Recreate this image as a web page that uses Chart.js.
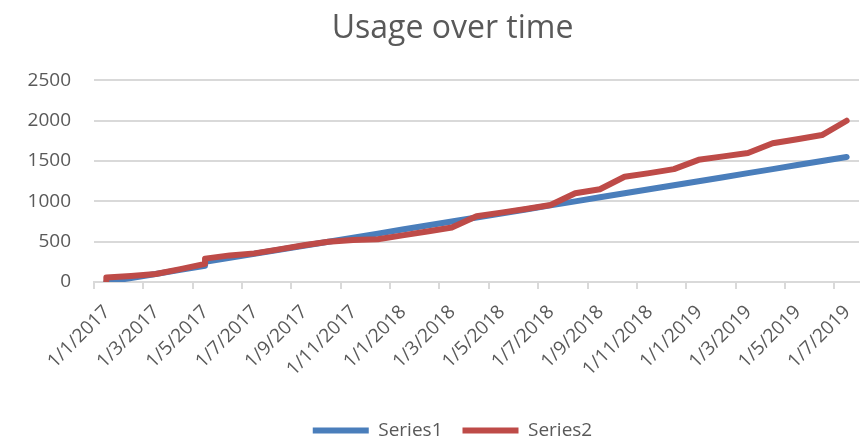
<!DOCTYPE html>
<html>
<head>
<meta charset="utf-8">
<script src="https://cdn.jsdelivr.net/npm/chart.js@4.4.1/dist/chart.umd.min.js"></script>
<style>
  html, body { margin: 0; padding: 0; background: #ffffff; }
  #wrap { width: 863px; height: 440px; }
</style>
</head>
<body>
<div id="wrap"><canvas id="c" width="863" height="440"></canvas></div>
<script>
// ---- data (months as yyyy-mm; Excel date axis with monthly base unit) ----
const tickLabels = ["1/1/2017","1/3/2017","1/5/2017","1/7/2017","1/9/2017","1/11/2017",
  "1/1/2018","1/3/2018","1/5/2018","1/7/2018","1/9/2018","1/11/2018",
  "1/1/2019","1/3/2019","1/5/2019","1/7/2019"];

const s1Months = ["2017-01","2017-02","2017-03","2017-04","2017-05","2017-05","2017-06","2017-07",
  "2017-08","2017-09","2017-10","2017-11","2017-12","2018-01","2018-02","2018-03","2018-04",
  "2018-05","2018-06","2018-07","2018-08","2018-09","2018-10","2018-11","2018-12","2019-01",
  "2019-02","2019-03","2019-04","2019-05","2019-06","2019-07"];
const s1Values = [0,50,100,150,200,250,300,350,400,450,500,550,600,650,700,750,800,
  850,900,950,1000,1050,1100,1150,1200,1250,1300,1350,1400,1450,1500,1550];

const s2Months = ["2017-01","2017-01","2017-02","2017-03","2017-04","2017-05","2017-05","2017-06",
  "2017-07","2017-08","2017-09","2017-10","2017-11","2017-12","2018-01","2018-02","2018-03",
  "2018-04","2018-05","2018-06","2018-07","2018-08","2018-09","2018-10","2018-11","2018-12",
  "2019-01","2019-02","2019-03","2019-04","2019-05","2019-06","2019-07"];
const s2Values = [15,55,75,100,160,225,290,330,355,405,455,500,520,530,578,626,675,
  815,860,905,955,1100,1150,1305,1350,1400,1515,1558,1600,1720,1770,1822,2000];

const seriesNames = ["Series1","Series2"];
const seriesColors = ["#4a7ebb","#be4b48"];
const yMin = 0, yMax = 2500, yStep = 500;

// month string -> position (month slot centre, Jan 2017 slot = [0,1])
function monthPos(m) {
  const [y, mo] = m.split("-").map(Number);
  return (y - 2017) * 12 + (mo - 1) + 0.5;
}
function toPoints(months, values) {
  return months.map((m, i) => ({ x: monthPos(m), y: values[i] }));
}
const tickPositions = tickLabels.map(l => {
  const [d, mo, y] = l.split("/").map(Number);
  return (y - 2017) * 12 + (mo - 1);
});
const axisMax = monthPos(s1Months[s1Months.length - 1]) + 0.5;

const FONT = "'Open Sans', 'Liberation Sans', sans-serif";
const TXT = "#595959";
const GRID = "#d9d9d9";
const LEG_PAD = 20;

// Excel centres title and legend slightly right of the canvas centre
const shiftBlocks = {
  id: "shiftBlocks",
  afterLayout(chart) {
    [chart.titleBlock, chart.legend].forEach(b => { if (b) { b.left += 46; } });
  }
};

new Chart(document.getElementById("c"), {
  type: "line",
  plugins: [shiftBlocks],
  data: {
    datasets: [
      { label: seriesNames[0], data: toPoints(s1Months, s1Values), order: 2,
        borderColor: seriesColors[0], backgroundColor: seriesColors[0] },
      { label: seriesNames[1], data: toPoints(s2Months, s2Values), order: 1,
        borderColor: seriesColors[1], backgroundColor: seriesColors[1] }
    ].map(d => Object.assign(d, {
      borderWidth: 6, pointRadius: 0, pointHoverRadius: 0, tension: 0,
      borderCapStyle: "round", borderJoinStyle: "round", fill: false
    }))
  },
  options: {
    responsive: false,
    animation: false,
    devicePixelRatio: 1,
    layout: { padding: { left: 0, right: 4, top: 0, bottom: -10 } },
    plugins: {
      title: {
        display: true, text: "Usage over time", color: TXT,
        font: { family: FONT, size: 32, weight: "normal" },
        padding: { top: 10, bottom: 32 }
      },
      legend: {
        position: "bottom",
        labels: {
          color: TXT, font: { family: FONT, size: 19 },
          usePointStyle: true, pointStyle: "line", pointStyleWidth: 56,
          padding: LEG_PAD,
          sort: (a, b) => a.datasetIndex - b.datasetIndex
        }
      },
      tooltip: { enabled: false }
    },
    scales: {
      x: {
        type: "linear", min: 0, max: axisMax,
        afterBuildTicks: (s) => { s.ticks = tickPositions.map(v => ({ value: v })); },
        afterFit: (s) => { s.height = 139 - LEG_PAD; },
        ticks: {
          color: TXT, font: { family: FONT, size: 19 },
          minRotation: 45, maxRotation: 45, autoSkip: false, padding: 12, labelOffset: 13,
          callback: (v) => { const i = tickPositions.indexOf(v); return i >= 0 ? tickLabels[i] : ""; }
        },
        grid: { drawOnChartArea: false, drawTicks: true, tickLength: 7, color: GRID, lineWidth: 2 },
        border: { display: true, color: GRID, width: 2 }
      },
      y: {
        min: yMin, max: yMax,
        afterFit: (s) => { s.width = 94; },
        ticks: { stepSize: yStep, color: TXT, font: { family: FONT, size: 19 }, padding: 23,
          callback: (v) => String(v) },
        grid: { drawTicks: false, color: GRID, lineWidth: 2 },
        border: { display: false }
      }
    }
  }
});
</script>
</body>
</html>
